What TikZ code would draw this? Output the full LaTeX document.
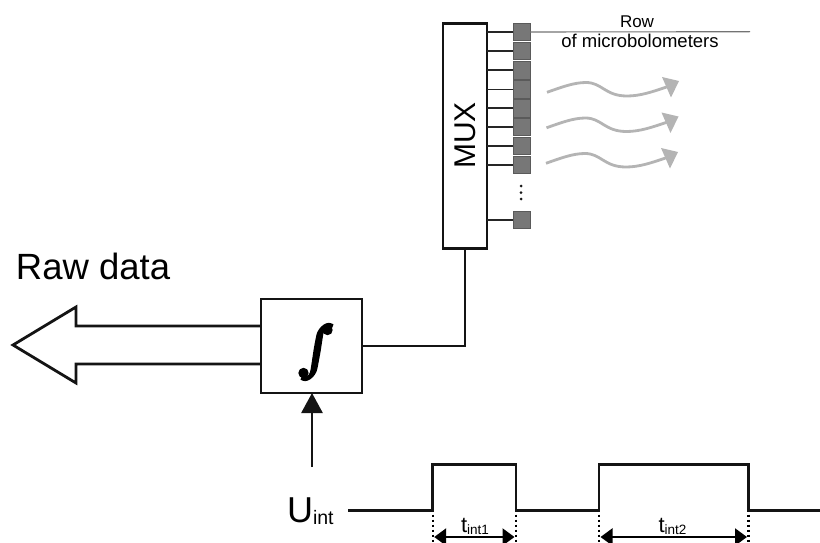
\documentclass[tikz,border=0pt]{standalone}
\usepackage{fontspec}
\setmainfont{Liberation Sans}
\newfontfamily\intfont[FakeBold=4,FakeSlant=0.16]{Liberation Serif}
\usetikzlibrary{arrows.meta,calc}
\definecolor{cellfill}{HTML}{777777}
\definecolor{celledge}{HTML}{5A5A5A}
\definecolor{wave}{HTML}{B4B4B4}
\tikzset{
  x=1pt,y=-1pt,
  medium/.style={draw=black!92,line width=2.8pt},
  wire/.style={draw=black!85,line width=1.7pt},
  cell/.style={draw=celledge,line width=1pt,fill=cellfill,minimum width=17pt,minimum height=17.5pt,inner sep=0pt,outer sep=0pt},
  blockbox/.style={draw=black!92,line width=2.8pt,fill=white,inner sep=0pt,outer sep=0pt},
  label/.style={inner sep=0pt,outer sep=0pt,anchor=base},
  wavy/.style={draw=wave,line width=2.8pt},
  wavetip/.style={fill=wave,draw=none},
  marker/.style={draw=black,line width=2.2pt,dash pattern=on 2.4pt off 2.6pt},
  span/.style={draw=black,line width=2.2pt,{Triangle[length=12pt,width=17pt]}-{Triangle[length=12pt,width=17pt]},shorten <=1.5pt,shorten >=1.5pt},
}
\newcommand{\wavearrow}[2]{%
  \draw[wavy] (#1,#2+92.3) .. controls (#1+15,#2+87) and (#1+27,#2+82.5) .. (#1+39,#2+82.5)
     .. controls (#1+55,#2+82.5) and (#1+58,#2+96) .. (#1+80,#2+96)
     .. controls (#1+93,#2+96) and (#1+105,#2+92) .. (#1+121,#2+86.5);
  \fill[wavetip] (#1+132,#2+81) -- (#1+115,#2+77) -- (#1+124,#2+97.5) -- cycle;
}
\begin{document}
\begin{tikzpicture}
\useasboundingbox (0,0) rectangle (820,543);
\clip (0,0) rectangle (820,543);

% Output arrow
\coordinate (tip) at (13,345);
\coordinate (headtop) at (76,307);
\coordinate (headbot) at (76,383);
\coordinate (shafttop) at (76,326);
\coordinate (shaftbot) at (76,364);
\coordinate (boxtop) at (261,326);
\coordinate (boxbot) at (261,364);
\draw[medium,line join=miter] (boxtop) -- (shafttop) -- (headtop) -- (tip) -- (headbot) -- (shaftbot) -- (boxbot);

\node[label,anchor=base west] (raw) at (16,279) {\fontsize{36.5}{40}\selectfont Raw data};

% Integrator
\node[blockbox,minimum width=101pt,minimum height=94pt] (integ) at (311.5,346) {};
\node[inner sep=0pt] (intsym) at (315,352) {\fontsize{57}{57}\selectfont\intfont ∫};
\fill[black] (327.5,330) circle (5.2pt);
\fill[black] (303.5,373) circle (5.2pt);

% MUX
\node[blockbox,minimum width=44pt,minimum height=225pt] (mux) at (465,136) {};
\node[rotate=90,inner sep=0pt] (muxlabel) at (465,135.5) {\fontsize{30}{32}\selectfont MUX};

\coordinate (corner) at (mux.south |- integ.east);
\draw[medium] (integ.east) -- (corner) -- (mux.south);

% Cells and wires
\foreach \n/\yy in {1/32,2/51,3/70.3,4/89.5,5/108.3,6/127,7/146,8/165,9/220}{
  \draw[wire] (mux.east |- 0,\yy) -- (513,\yy);
}
\foreach \n/\yy in {1/32,2/51,3/70.3,4/89.5,5/108.3,6/127,7/146,8/165,9/220}{
  \node[cell] (s\n) at (521.5,\yy) {};
}
\foreach \yy in {186,192.7,199}{\fill[black!90] (521,\yy) circle (1.5pt);}

% Row label
\coordinate (rowend) at (750,31.7);
\draw[draw=black!55,line width=1.1pt] (s1.east) -- (rowend);
\node[label] (rowlab) at (637,27.5) {\fontsize{17}{20}\selectfont Row};
\node[label] (oflab) at (640,48) {\fontsize{18.5}{20}\selectfont of microbolometers};

% Waves
\wavearrow{547}{0}
\wavearrow{546.5}{35.5}
\wavearrow{546}{71}

% Uint
\node[label,anchor=base west] (ulabel) at (287,522.5) {\fontsize{36}{36}\selectfont U\raisebox{-1.5pt}{\fontsize{19.5}{20}\selectfont int}};
\coordinate (ctrl) at (312,467);
\draw[medium,-{Triangle[length=20pt,width=21pt]}] (ctrl) -- (integ.south -| ctrl);

% Pulse train
\coordinate (p0) at (348,510.5);
\coordinate (p1) at (432.7,510.5);
\coordinate (p1t) at (432.7,464.2);
\coordinate (p2t) at (516,464.2);
\coordinate (p2) at (516,510.5);
\coordinate (p3) at (599,510.5);
\coordinate (p3t) at (599,464.2);
\coordinate (p4t) at (748.5,464.2);
\coordinate (p4) at (748.5,510.5);
\coordinate (p5) at (820,510.5);
\draw[medium,line join=miter] (p0) -- (p1) -- (p1t) -- (p2t) -- (p2) -- (p3) -- (p3t) -- (p4t) -- (p4) -- (p5);

\foreach \a in {1,2,3,4}{\draw[marker] (p\a) ++(0,4) -- ++(0,30);}
\coordinate (a1) at (432.7,537);
\coordinate (a2) at (516,537);
\coordinate (a3) at (599,537);
\coordinate (a4) at (748.5,537);
\draw[span] (a1) -- (a2);
\draw[span] (a3) -- (a4);
\node[label,anchor=base west] (t1) at (461,532) {\fontsize{22}{22}\selectfont t\raisebox{-2pt}{\fontsize{13.5}{14}\selectfont int1}};
\node[label,anchor=base west] (t2) at (658.5,532) {\fontsize{22}{22}\selectfont t\raisebox{-2pt}{\fontsize{13.5}{14}\selectfont int2}};
\end{tikzpicture}
\end{document}
